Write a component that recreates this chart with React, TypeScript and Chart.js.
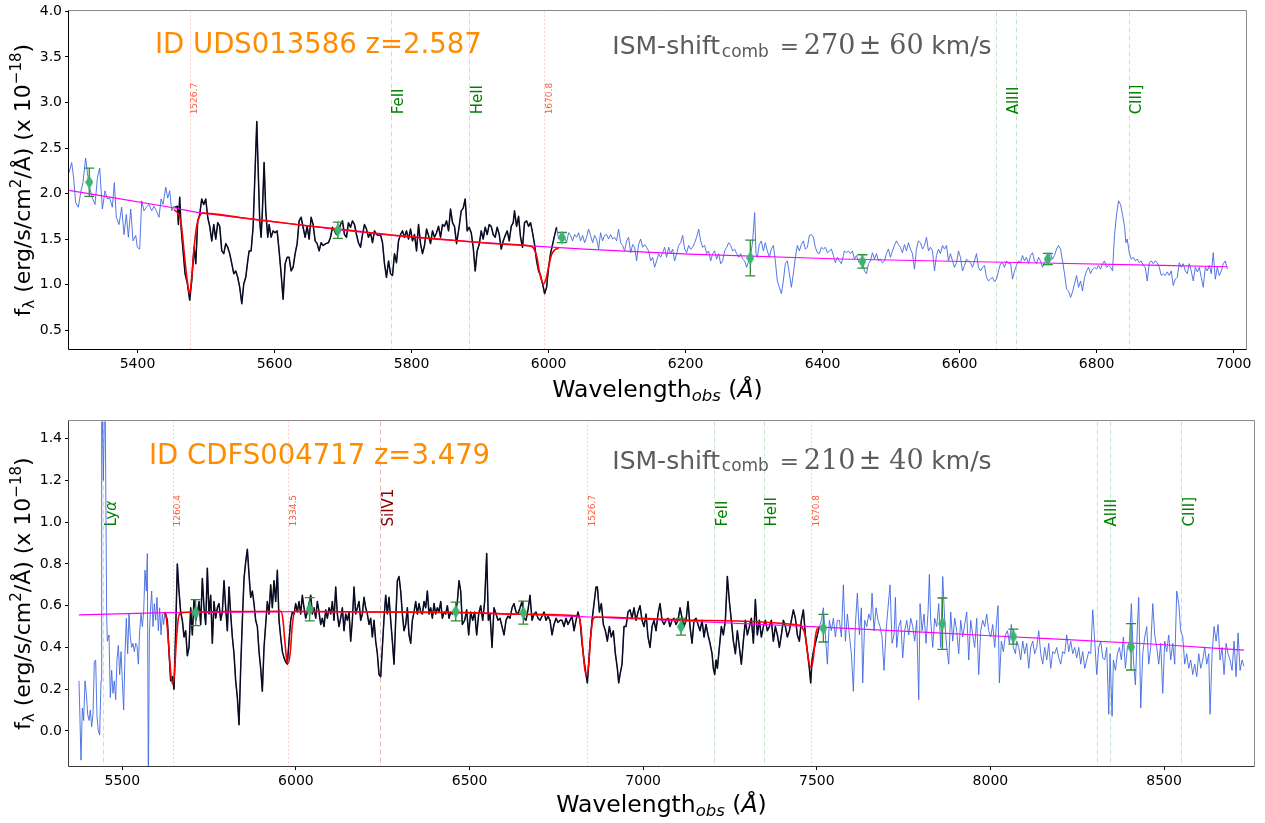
import React, { useEffect, useRef } from 'react';
import { Chart, registerables } from 'chart.js';

Chart.register(...registerables);

type Pt = [number, number];

// ================= Panel 1 : UDS013586 =================
const topObjectId = 'UDS013586';
const topRedshift = 2.587;
const topIsmShift = '270';
const topIsmErr = '60';
const topXLimits = [5300, 7018];
const topYLimits = [0.293, 4.0];
const topXTicks = [5400, 5600, 5800, 6000, 6200, 6400, 6600, 6800, 7000];
const topYTicks = [0.5, 1.0, 1.5, 2.0, 2.5, 3.0, 3.5, 4.0];
const topFitWindow = [5453, 6013];

const topSpectrum: Pt[] = [
  [5300.0,2.23],[5303.9,2.34],[5306.8,2.17],[5309.7,1.90],[5313.6,1.85],[5317.5,2.03],[5320.4,2.12],[5324.3,2.39],[5326.8,2.23],[5330.2,2.06],
  [5334.1,1.95],[5338.0,1.88],[5341.4,2.17],[5344.8,2.28],[5348.7,1.83],[5352.6,2.03],[5356.0,1.94],[5359.4,1.95],[5363.3,1.85],[5366.2,2.12],
  [5369.1,1.74],[5373.0,1.66],[5376.9,1.85],[5380.3,1.55],[5383.7,1.77],[5386.7,1.52],[5390.1,1.83],[5393.5,1.48],[5397.4,1.54],[5399.8,1.41],
  [5403.2,1.39],[5406.1,1.92],[5409.5,1.81],[5412.9,1.85],[5416.8,1.88],[5420.7,1.81],[5424.1,1.86],[5427.5,1.81],[5431.4,1.74],[5434.4,1.94],
  [5437.3,1.88],[5441.2,2.07],[5444.1,1.95],[5447.0,2.03],[5449.9,1.81],[5452.9,1.86],
  [5454.8,1.85],[5458.2,1.86],[5459.7,1.66],[5461.6,1.96],[5463.6,1.63],[5466.5,1.37],[5469.4,1.12],[5472.8,1.01],[5476.2,0.83],[5479.1,1.04],
  [5482.6,1.41],[5485.0,1.23],[5487.9,1.70],[5490.8,1.77],[5493.7,1.94],[5496.7,1.88],[5499.6,1.94],[5502.5,1.74],[5505.4,1.64],[5508.4,1.48],
  [5511.3,1.66],[5514.2,1.50],[5517.1,1.68],[5520.0,1.64],[5523.0,1.37],[5525.9,1.34],[5528.8,1.45],[5531.7,1.41],[5534.6,1.34],[5537.6,1.23],
  [5540.5,1.12],[5543.4,1.15],[5546.3,1.08],[5549.2,0.97],[5552.2,0.79],[5555.1,1.01],[5558.0,1.08],[5560.9,1.26],[5562.9,1.37],[5565.8,1.37],
  [5568.7,1.63],[5571.6,2.25],[5574.1,2.79],[5576.5,2.17],[5578.4,1.70],[5580.4,1.52],[5582.3,1.81],[5584.8,2.34],[5587.2,1.81],[5590.1,1.52],
  [5592.1,1.66],[5595.0,1.52],[5597.9,1.59],[5600.8,1.57],[5603.8,1.59],[5606.7,1.37],[5609.6,1.12],[5612.5,0.84],[5615.5,1.23],[5618.4,1.30],
  [5621.3,1.30],[5624.2,1.15],[5627.1,1.19],[5630.1,1.34],[5633.0,1.45],[5635.9,1.70],[5638.8,1.74],[5641.7,1.63],[5644.7,1.52],[5647.6,1.64],
  [5650.5,1.50],[5653.4,1.74],[5656.3,1.66],[5659.3,1.48],[5662.2,1.45],[5665.1,1.37],[5668.0,1.46],[5670.9,1.43],[5674.8,1.45],[5678.7,1.46],
  [5681.7,1.52],[5684.6,1.63],[5687.5,1.59],[5690.4,1.55],[5693.3,1.59],[5696.3,1.66],[5699.2,1.70],[5702.1,1.55],[5705.0,1.52],[5707.9,1.68],
  [5710.9,1.63],[5713.8,1.70],[5716.7,1.66],[5719.6,1.55],[5722.5,1.46],[5725.5,1.41],[5728.4,1.55],[5731.3,1.66],[5734.2,1.61],[5737.1,1.52],
  [5740.1,1.57],[5743.0,1.46],[5745.9,1.59],[5748.8,1.55],[5751.8,1.54],[5754.7,1.55],[5757.6,1.46],[5760.5,1.23],[5763.4,1.08],[5766.4,1.26],
  [5769.3,1.12],[5772.2,1.10],[5775.1,1.34],[5778.0,1.24],[5781.0,1.48],[5783.9,1.55],[5786.8,1.59],[5789.7,1.52],[5792.6,1.59],[5795.6,1.50],
  [5798.5,1.61],[5801.4,1.48],[5804.3,1.55],[5807.3,1.37],[5810.2,1.66],[5813.1,1.45],[5816.0,1.34],[5818.9,1.43],[5821.9,1.61],[5824.8,1.54],
  [5827.7,1.45],[5830.6,1.59],[5833.5,1.52],[5836.5,1.57],[5839.4,1.64],[5842.3,1.52],[5845.2,1.66],[5848.1,1.64],[5851.1,1.70],[5854.0,1.59],
  [5856.9,1.83],[5859.8,1.68],[5862.7,1.64],[5865.7,1.45],
  [5869.5,1.64],[5872.5,1.81],[5875.4,1.84],[5878.3,1.94],[5881.2,1.59],[5884.1,1.63],[5887.1,1.57],[5890.0,1.41],[5892.9,1.15],[5895.8,1.37],
  [5898.7,1.44],[5901.7,1.59],[5904.6,1.50],[5907.5,1.63],[5910.4,1.55],[5913.4,1.66],[5916.3,1.64],[5919.2,1.55],[5922.1,1.52],[5925.0,1.63],
  [5928.0,1.55],[5930.9,1.39],[5933.8,1.48],[5936.7,1.54],[5939.6,1.59],[5942.6,1.48],[5945.5,1.64],[5948.4,1.68],[5950.3,1.81],[5953.3,1.64],
  [5956.2,1.75],[5959.1,1.52],[5962.0,1.41],[5964.9,1.68],[5967.9,1.70],[5970.8,1.64],[5973.7,1.68],[5976.6,1.57],[5979.6,1.44],[5982.5,1.26],
  [5985.4,1.15],[5988.3,1.10],[5991.2,1.01],[5994.2,0.90],[5997.1,0.97],[6000.0,1.19],[6002.9,1.34],[6005.8,1.44],[6008.8,1.54],[6011.7,1.63],
  [6014.6,1.50],[6017.5,1.54],[6020.5,1.57],[6023.4,1.52],[6026.3,1.46],[6029.2,1.57],[6032.1,1.54],[6035.1,1.48],[6038.0,1.55],[6040.9,1.52],
  [6043.8,1.57],[6046.7,1.48],[6049.7,1.54],[6052.6,1.46],[6055.5,1.52],[6058.4,1.61],[6061.3,1.54],[6064.3,1.46],[6067.2,1.54],[6070.1,1.50],
  [6073.0,1.39],[6075.9,1.57],[6078.9,1.48],[6081.8,1.54],[6084.7,1.55],[6087.6,1.50],[6090.5,1.55],[6093.5,1.50],[6096.4,1.52],[6099.3,1.48],
  [6102.2,1.61],[6105.2,1.46],[6108.1,1.43],[6111.0,1.37],[6113.9,1.48],[6116.8,1.52],[6119.8,1.35],[6122.7,1.44],[6125.6,1.41],[6128.5,1.26],
  [6131.4,1.44],[6134.4,1.50],[6137.3,1.41],[6140.2,1.44],[6143.1,1.41],[6146.0,1.37],[6149.0,1.26],[6151.9,1.30],[6154.8,1.19],[6157.7,1.26],
  [6160.6,1.34],[6163.6,1.30],[6166.5,1.35],[6169.4,1.41],[6172.3,1.30],[6175.3,1.41],[6178.2,1.34],[6181.1,1.39],[6184.0,1.26],[6186.9,1.34],
  [6189.9,1.43],[6192.8,1.46],[6195.7,1.54],[6198.6,1.39],[6201.5,1.35],[6204.5,1.43],[6207.4,1.39],[6210.3,1.41],[6213.2,1.46],[6216.1,1.52],
  [6219.1,1.61],[6222.0,1.48],[6224.9,1.41],[6227.8,1.43],[6230.7,1.34],[6233.7,1.37],[6236.6,1.26],[6239.5,1.34],[6242.4,1.37],[6245.3,1.28],
  [6248.3,1.34],[6251.2,1.23],[6254.1,1.26],[6257.0,1.37],[6260.0,1.41],[6262.9,1.46],[6265.8,1.43],[6268.7,1.37],[6271.6,1.39],[6274.6,1.34],
  [6277.5,1.30],[6280.4,1.34],[6283.3,1.28],[6286.2,1.26],[6289.2,1.19],[6292.1,1.26],[6295.0,1.32],[6297.9,1.48],[6300.8,1.79],[6302.8,1.34],
  [6304.7,1.30],[6307.6,1.44],[6310.6,1.48],[6313.5,1.37],[6316.4,1.46],[6319.3,1.37],[6322.3,1.30],[6325.2,1.39],[6328.1,1.43],[6331.0,1.26],
  [6333.9,1.04],[6336.9,0.97],[6339.8,0.90],[6342.7,1.04],[6345.6,1.23],[6348.5,1.26],[6351.5,1.12],[6354.4,0.97],[6357.3,1.12],[6360.2,1.30],
  [6363.1,1.43],[6366.1,1.37],[6369.0,1.44],[6371.9,1.48],[6374.8,1.39],[6377.8,1.41],[6380.7,1.54],[6383.6,1.55],[6386.5,1.52],[6389.4,1.41],
  [6392.4,1.35],[6395.3,1.34],[6398.2,1.41],[6401.1,1.39],[6404.0,1.41],[6407.0,1.35],[6409.9,1.37],[6412.8,1.39],[6415.7,1.32],[6418.7,1.24],
  [6421.6,1.30],[6424.5,1.26],[6427.4,1.23],[6430.3,1.32],
  [6431.8,1.37],[6434.8,1.35],[6437.7,1.37],[6440.6,1.34],[6443.5,1.37],[6446.4,1.28],[6449.4,1.32],[6452.3,1.26],[6455.2,1.23],[6458.1,1.26],
  [6461.0,1.15],[6464.0,1.12],[6466.9,1.23],[6469.8,1.26],[6472.7,1.35],[6475.7,1.28],[6478.6,1.34],[6481.5,1.26],[6484.4,1.28],[6487.3,1.24],
  [6490.3,1.26],[6493.2,1.34],[6496.1,1.39],[6499.0,1.30],[6501.9,1.37],[6504.9,1.43],[6507.8,1.48],[6510.7,1.44],[6513.6,1.41],[6516.5,1.35],
  [6519.5,1.44],[6522.4,1.37],[6525.3,1.46],[6528.2,1.39],[6531.1,1.34],[6534.1,1.17],[6537.0,1.39],[6539.9,1.48],[6542.8,1.46],[6545.8,1.39],
  [6548.7,1.43],[6551.6,1.52],[6554.5,1.37],[6557.4,1.41],[6560.4,1.37],[6563.3,1.15],[6566.2,1.32],[6569.1,1.39],[6572.0,1.34],[6575.0,1.43],
  [6577.9,1.39],[6580.8,1.43],[6583.7,1.26],[6586.6,1.34],[6589.6,1.26],[6592.5,1.19],[6595.4,1.24],[6598.3,1.37],[6601.2,1.30],[6604.2,1.15],
  [6607.1,1.21],[6610.0,1.28],[6612.9,1.26],[6615.9,1.24],[6618.8,1.19],[6621.7,1.26],[6624.6,1.34],[6627.5,1.19],[6630.5,1.15],[6633.4,1.19],
  [6636.3,1.21],[6639.2,1.08],[6642.1,1.04],[6645.1,1.06],[6648.0,1.08],[6650.9,1.03],[6653.8,1.06],[6656.7,1.15],[6659.7,1.23],[6662.6,1.24],
  [6665.5,1.19],[6668.4,1.26],[6671.3,1.23],[6674.3,1.24],[6677.2,1.06],[6680.1,1.15],[6683.0,1.21],[6686.0,1.26],[6688.9,1.24],[6691.8,1.32],
  [6694.7,1.26],[6697.6,1.30],[6700.6,1.23],[6703.5,1.32],[6706.4,1.35],[6709.3,1.26],[6712.2,1.23],[6715.2,1.30],[6718.1,1.26],[6721.0,1.19],
  [6723.9,1.24],[6726.8,1.28],[6729.8,1.30],[6732.7,1.34],[6735.6,1.28],[6738.5,1.32],[6741.5,1.39],[6744.4,1.43],[6747.3,1.39],[6750.2,1.26],
  [6753.1,1.12],[6756.1,0.95],[6759.0,0.93],[6761.9,0.86],[6764.8,0.92],[6767.7,1.01],[6770.7,1.10],[6773.6,0.97],[6776.5,1.04],[6779.4,0.93],
  [6782.3,1.08],[6785.3,1.15],[6788.2,1.19],[6791.1,1.12],[6794.0,1.17],[6796.9,1.19],[6799.9,1.17],[6802.8,1.21],[6805.7,1.17],[6808.6,1.23],
  [6811.5,1.26],[6814.5,1.19],[6817.4,1.21],[6820.3,1.19],[6823.2,1.15],[6826.1,1.55],[6829.1,1.77],[6832.0,1.92],[6834.9,1.88],[6837.8,1.77],
  [6840.8,1.63],[6842.7,1.46],[6844.6,1.50],[6847.6,1.35],[6850.5,1.28],[6853.4,1.30],[6856.3,1.26],[6859.2,1.28],[6862.2,1.24],[6865.1,1.26],
  [6868.0,1.21],[6870.9,1.19],[6873.9,1.04],[6876.8,1.24],[6879.7,1.26],[6882.6,1.23],[6885.5,1.26],[6888.5,1.24],[6891.4,1.19],[6894.3,1.10],
  [6897.2,1.12],[6900.1,1.10],[6903.1,1.14],[6906.0,1.10],[6908.9,1.15],[6911.8,0.99],[6914.7,1.06],[6917.7,1.08],[6920.6,1.24],[6923.5,1.19],
  [6926.4,1.23],[6929.4,1.15],[6932.3,1.12],[6935.2,1.23],[6938.1,1.15],[6941.0,1.04],[6944.0,1.19],[6946.9,1.14],[6949.8,1.19],[6952.7,1.08],
  [6955.6,0.97],[6958.6,1.19],[6961.5,1.15],[6964.4,1.21],[6967.3,1.12],[6970.2,1.35],[6973.2,1.06],[6976.1,1.19],[6979.0,1.10],[6981.9,1.15],
  [6984.9,1.23],[6987.8,1.26],[6990.7,1.17],
];

const topContinuum: Pt[] = [
  [5300, 2.034], [5452, 1.844], [5491, 1.79], [5551, 1.735], [5602, 1.688], [5650, 1.644], [5686, 1.61],
  [5783, 1.535], [5998, 1.415], [6205, 1.335], [6426, 1.281], [6704, 1.24], [6991, 1.196],
];

const topFitModel: Pt[] = [
  [5453.3, 1.826], [5463.1, 1.699], [5467.9, 1.372], [5471.4, 1.117], [5475.2, 0.917], [5476.2, 0.906],
  [5479.1, 1.081], [5482.6, 1.408], [5486.4, 1.645], [5490.8, 1.754], [5494.7, 1.785], [5551.0, 1.735],
  [5602.0, 1.688], [5650.0, 1.644], [5699.2, 1.605], [5783.0, 1.535], [5869.6, 1.481], [5940.0, 1.442],
  [5970.8, 1.426], [5978.1, 1.40], [5983.0, 1.30], [5986.4, 1.15], [5989.3, 1.06],
  [5992.7, 1.01], [5996.1, 1.06], [6000.0, 1.19], [6003.9, 1.32], [6008.8, 1.38], [6014.6, 1.40],
];

const topIndexWave = [5329.6, 5692.4, 6019.5, 6294.5, 6458.1, 6728.7];
const topIndexFlux = [2.124, 1.597, 1.517, 1.292, 1.255, 1.281];
const topIndexErr = [0.155, 0.09, 0.055, 0.196, 0.073, 0.062];

// ================= Panel 2 : CDFS004717 =================
const botObjectId = 'CDFS004717';
const botRedshift = 3.479;
const botIsmShift = '210';
const botIsmErr = '40';
const botXLimits = [5346.5, 8759];
const botYLimits = [-0.168, 1.483];
const botXTicks = [5500, 6000, 6500, 7000, 7500, 8000, 8500];
const botYTicks = [0.0, 0.2, 0.4, 0.6, 0.8, 1.0, 1.2, 1.4];
const botFitWindow = [5622, 7508];

const botSpectrum: Pt[] = [
  [5375.3,0.24],[5381.1,-0.14],[5384.9,0.11],[5388.7,0.05],[5392.6,0.24],[5396.4,0.18],[5400.3,0.08],[5404.1,0.05],[5407.9,0.10],[5411.8,0.02],
  [5415.6,0.08],[5419.5,0.33],[5423.3,0.34],[5427.1,0.07],[5431.0,0.00],[5434.8,-0.02],[5438.7,0.24],[5440.6,1.70],[5445.4,1.20],[5450.2,1.70],
  [5455.0,0.55],[5456.9,0.43],[5461.7,0.46],[5465.5,0.16],[5469.4,0.29],[5473.2,0.18],[5477.1,0.24],[5480.9,0.15],[5484.7,0.34],[5488.6,0.41],
  [5492.4,0.27],[5496.3,0.38],[5500.1,0.24],[5503.9,0.10],[5507.8,0.37],[5511.6,0.54],[5515.5,0.37],[5519.3,0.56],[5523.1,0.45],[5527.0,0.40],
  [5530.8,0.42],[5534.7,0.38],[5538.5,0.42],[5542.3,0.41],[5546.2,0.32],[5550.0,0.48],[5553.9,0.56],[5557.7,0.50],[5561.5,0.57],[5565.4,0.77],
  [5569.2,0.67],[5572.1,0.85],[5575.0,-0.30],[5577.9,0.46],[5580.7,0.57],[5584.6,0.67],[5588.4,0.50],[5592.3,0.61],[5596.1,0.53],[5599.9,0.64],
  [5603.8,0.48],[5607.6,0.59],[5611.5,0.46],[5615.3,0.56],[5619.1,0.51],[5623.0,0.57],
  [5629.7,0.53],[5634.5,0.38],[5639.3,0.24],[5644.1,0.26],[5648.9,0.20],[5653.7,0.48],[5658.5,0.80],[5663.3,0.67],[5668.1,0.57],[5672.9,0.53],
  [5677.7,0.45],[5682.5,0.48],[5687.3,0.36],[5692.1,0.40],[5696.9,0.59],[5701.7,0.46],[5706.5,0.63],[5711.3,0.53],[5716.1,0.56],[5720.9,0.62],
  [5725.7,0.51],[5730.5,0.73],[5735.3,0.59],[5740.1,0.51],[5744.9,0.78],[5749.7,0.56],[5754.5,0.65],[5759.3,0.42],[5764.1,0.62],[5768.9,0.54],
  [5773.7,0.59],[5778.5,0.61],[5783.3,0.53],[5788.1,0.57],[5792.9,0.72],[5797.7,0.59],[5802.5,0.48],[5807.3,0.69],[5812.1,0.56],[5816.9,0.45],
  [5821.7,0.37],[5826.5,0.24],[5831.3,0.16],[5836.1,0.03],[5840.9,0.30],[5845.7,0.53],[5850.5,0.73],[5855.3,0.81],[5860.1,0.87],[5864.9,0.75],
  [5869.7,0.64],[5874.5,0.67],[5879.3,0.61],[5884.1,0.53],[5888.9,0.50],[5893.7,0.38],[5898.5,0.30],[5903.3,0.19],[5908.1,0.40],[5912.9,0.51],
  [5917.7,0.62],[5922.5,0.56],[5927.3,0.70],[5932.1,0.59],[5936.9,0.72],[5941.7,0.62],[5946.5,0.77],[5951.3,0.53],[5956.1,0.45],[5960.9,0.38],
  [5965.7,0.35],[5970.5,0.33],[5975.3,0.32],[5980.1,0.43],[5984.9,0.53],[5989.7,0.57],[5994.5,0.56],[5999.3,0.61],[6004.1,0.57],[6008.9,0.62],
  [6013.7,0.56],[6018.5,0.65],[6023.3,0.59],[6028.1,0.54],[6032.9,0.57],[6037.7,0.61],[6042.5,0.65],[6047.3,0.56],[6052.1,0.59],[6056.9,0.54],
  [6061.7,0.62],[6066.5,0.57],[6071.3,0.51],[6076.1,0.54],[6080.9,0.50],[6085.7,0.58],[6090.5,0.54],[6095.3,0.59],[6100.1,0.56],[6104.9,0.62],
  [6109.7,0.53],[6114.5,0.69],[6119.3,0.56],[6124.1,0.50],[6128.9,0.54],[6133.7,0.59],[6138.5,0.48],[6143.3,0.56],[6148.1,0.53],[6152.9,0.57],
  [6157.7,0.43],[6162.5,0.53],[6167.3,0.69],[6172.1,0.56],[6176.9,0.59],[6181.7,0.62],[6186.5,0.53],[6191.3,0.56],[6196.1,0.64],[6200.9,0.59],
  [6205.7,0.56],[6210.5,0.51],[6215.3,0.54],[6220.1,0.45],[6224.9,0.53],[6229.7,0.43],[6234.5,0.37],[6239.3,0.27],[6244.1,0.26],[6248.9,0.40],
  [6253.7,0.54],[6258.5,0.65],[6263.3,0.56],[6268.1,0.64],[6272.9,0.53],[6277.7,0.43],[6282.5,0.32],[6287.3,0.53],[6292.1,0.72],[6296.9,0.74],
  [6301.7,0.67],[6306.5,0.56],[6311.3,0.48],[6316.1,0.51],[6320.9,0.59],[6325.7,0.46],[6330.5,0.42],[6335.3,0.53],[6340.1,0.57],[6344.9,0.62],
  [6349.7,0.56],[6354.5,0.61],[6359.3,0.57],[6364.1,0.56],[6368.9,0.62],[6373.7,0.59],[6378.5,0.67],[6383.3,0.56],[6388.1,0.59],[6392.9,0.54],
  [6397.7,0.61],[6402.5,0.56],[6407.3,0.59],[6412.1,0.57],[6416.9,0.62],[6421.7,0.54],[6426.5,0.57],[6431.3,0.56],[6436.1,0.60],[6440.9,0.54],
  [6445.7,0.57],[6450.5,0.56],[6455.3,0.58],[6460.1,0.57],[6464.9,0.62],[6469.7,0.72],[6474.5,0.67],[6479.3,0.51],
  [6485.9,0.53],[6491.7,0.58],[6497.5,0.46],[6503.2,0.57],[6509.0,0.53],[6514.7,0.57],[6520.5,0.46],[6526.3,0.56],[6532.0,0.60],[6537.8,0.53],
  [6543.5,0.62],[6549.3,0.85],[6554.1,0.53],[6558.9,0.56],[6564.7,0.40],[6570.4,0.59],[6576.2,0.56],[6581.9,0.53],[6587.7,0.54],[6593.5,0.50],
  [6599.2,0.46],[6605.0,0.53],[6610.7,0.55],[6616.5,0.54],[6622.3,0.59],[6628.0,0.61],[6633.8,0.57],[6639.5,0.56],[6645.3,0.59],[6651.1,0.62],
  [6656.8,0.54],[6662.6,0.53],[6668.3,0.58],[6674.1,0.65],[6679.9,0.53],[6685.6,0.56],[6691.4,0.57],[6697.1,0.54],[6702.9,0.53],[6708.7,0.55],
  [6714.4,0.57],[6720.2,0.53],[6725.9,0.55],[6731.7,0.53],[6737.5,0.46],[6743.2,0.51],[6749.0,0.54],[6754.7,0.52],[6760.5,0.53],[6766.3,0.53],
  [6772.0,0.50],[6777.8,0.54],[6783.5,0.51],[6789.3,0.53],[6795.1,0.55],[6800.8,0.48],[6806.6,0.53],[6812.3,0.57],[6818.1,0.53],[6823.9,0.42],
  [6829.6,0.34],[6835.4,0.27],[6839.2,0.23],[6843.1,0.32],[6846.9,0.42],[6852.7,0.53],[6858.4,0.61],[6864.2,0.69],[6868.0,0.69],[6873.8,0.57],
  [6879.5,0.61],[6885.3,0.51],[6891.1,0.48],[6896.8,0.43],[6902.6,0.50],[6908.3,0.45],[6914.1,0.48],[6919.9,0.37],[6925.6,0.30],[6929.5,0.23],
  [6933.3,0.27],[6939.1,0.32],[6944.8,0.50],[6950.6,0.50],[6956.3,0.57],[6962.1,0.58],[6967.9,0.54],[6973.6,0.59],[6979.4,0.53],[6985.1,0.57],
  [6990.9,0.60],[6996.7,0.53],[7002.4,0.50],[7008.2,0.56],[7013.9,0.45],[7019.7,0.40],[7025.5,0.50],[7031.2,0.53],[7037.0,0.48],[7042.7,0.56],
  [7048.5,0.61],[7054.3,0.53],[7060.0,0.51],[7065.8,0.53],[7071.5,0.54],[7077.3,0.50],[7083.1,0.53],[7088.8,0.54],[7094.6,0.51],[7100.3,0.53],
  [7106.1,0.59],[7111.9,0.54],[7117.6,0.50],[7123.4,0.53],[7129.1,0.62],[7134.9,0.50],[7140.7,0.42],[7146.4,0.53],[7152.2,0.54],[7157.9,0.51],
  [7163.7,0.48],[7169.5,0.53],[7175.2,0.45],[7181.0,0.51],[7186.7,0.46],[7192.5,0.42],[7198.3,0.37],[7202.1,0.30],[7205.9,0.27],[7209.8,0.34],
  [7213.6,0.30],[7219.4,0.40],[7225.1,0.50],[7230.9,0.46],[7236.7,0.53],[7242.4,0.74],[7248.2,0.62],[7253.9,0.53],[7259.7,0.43],[7265.5,0.37],
  [7271.2,0.48],[7277.0,0.40],[7282.7,0.32],[7288.5,0.43],[7294.3,0.53],[7300.0,0.46],[7305.8,0.50],[7311.5,0.54],[7317.3,0.42],[7323.1,0.63],
  [7328.8,0.46],[7334.6,0.53],[7340.3,0.45],[7346.1,0.50],[7351.9,0.53],[7357.6,0.48],[7363.4,0.50],[7369.1,0.53],[7374.9,0.43],[7380.7,0.50],
  [7386.4,0.46],[7392.2,0.40],[7397.9,0.46],[7403.7,0.53],[7409.5,0.50],[7415.2,0.45],[7421.0,0.48],[7426.7,0.53],[7432.5,0.58],[7438.3,0.54],
  [7444.0,0.46],[7449.8,0.43],[7455.5,0.53],[7461.3,0.58],[7467.1,0.46],[7472.8,0.38],[7478.6,0.30],[7482.4,0.23],[7486.3,0.34],[7490.1,0.38],
  [7495.9,0.42],[7501.6,0.46],[7507.4,0.50],[7513.1,0.53],[7518.9,0.59],[7524.7,0.46],[7530.4,0.32],[7536.2,0.53],[7541.9,0.48],[7547.7,0.54],
  [7553.5,0.45],[7559.2,0.53],[7565.0,0.53],[7570.7,0.45],[7576.5,0.70],[7582.3,0.43],[7588.0,0.56],[7593.8,0.46],[7599.5,0.37],[7605.3,0.19],
  [7611.1,0.51],[7616.8,0.66],[7622.6,0.46],[7628.3,0.59],[7632.2,0.23],[7638.0,0.53],[7643.7,0.50],[7649.5,0.56],[7655.2,0.53],[7659.1,0.66],
  [7664.8,0.48],[7670.6,0.59],[7676.3,0.53],[7682.1,0.50],[7687.9,0.45],[7693.6,0.29],[7699.4,0.48],[7705.1,0.59],[7710.9,0.70],[7716.7,0.42],
  [7722.4,0.46],[7726.3,0.64],[7730.1,0.40],[7735.9,0.50],[7741.6,0.53],[7747.4,0.35],[7753.1,0.48],[7758.9,0.53],[7764.7,0.46],[7770.4,0.54],
  [7776.2,0.50],[7781.9,0.43],[7787.7,0.53],[7793.5,0.15],[7797.3,0.61],[7803.1,0.48],[7808.8,0.56],[7814.6,0.42],[7820.3,0.57],[7824.2,0.75],
  [7828.0,0.53],[7833.8,0.40],[7839.5,0.54],[7845.3,0.50],[7851.1,0.61],[7856.8,0.40],[7862.6,0.74],[7868.3,0.53],[7874.1,0.40],[7879.9,0.32],
  [7885.6,0.57],[7891.4,0.43],[7897.1,0.54],[7902.9,0.48],[7908.7,0.37],[7914.4,0.53],[7920.2,0.45],[7925.9,0.51],[7931.7,0.57],[7937.5,0.34],
  [7943.2,0.53],[7949.0,0.46],[7954.7,0.40],[7960.5,0.54],[7966.3,0.27],[7972.0,0.48],[7977.8,0.53],[7983.5,0.50],[7989.3,0.56],[7995.1,0.48],
  [8000.8,0.45],[8006.6,0.51],[8012.3,0.40],[8018.1,0.53],[8021.9,0.60],[8025.8,0.23],[8031.5,0.43],[8037.3,0.38],[8043.1,0.46],[8048.8,0.48],
  [8054.6,0.42],[8060.3,0.51],[8066.1,0.40],[8071.9,0.37],[8075.7,0.43],[8081.5,0.40],[8087.2,0.34],[8093.0,0.43],[8098.7,0.37],[8104.5,0.42],
  [8110.3,0.30],[8116.0,0.40],[8121.8,0.43],[8127.5,0.37],[8133.3,0.40],[8139.1,0.48],[8144.8,0.37],[8150.6,0.32],[8156.3,0.40],[8162.1,0.34],
  [8167.9,0.42],[8173.6,0.30],[8179.4,0.38],[8185.1,0.37],[8190.9,0.40],[8196.7,0.35],[8202.4,0.32],[8208.2,0.38],[8213.9,0.37],[8219.7,0.46],
  [8225.5,0.38],[8231.2,0.43],[8237.0,0.37],[8242.7,0.40],[8248.5,0.35],[8254.3,0.40],[8260.0,0.32],[8265.8,0.38],[8271.5,0.30],[8277.3,0.34],
  [8283.1,0.38],[8288.8,0.37],[8294.6,0.58],[8300.3,0.43],[8306.1,0.27],[8311.9,0.40],[8317.6,0.43],[8323.4,0.35],[8329.1,0.34],[8334.9,0.40],
  [8340.7,0.08],[8344.5,0.37],[8350.3,0.07],[8354.1,0.34],[8359.9,0.29],[8365.6,0.37],[8371.4,0.40],[8377.1,0.34],[8382.9,0.45],[8388.7,0.30],
  [8394.4,0.40],[8400.2,0.43],[8405.9,0.61],[8411.7,0.34],[8417.5,0.22],[8423.2,0.50],[8427.1,0.64],[8432.8,0.11],[8438.6,0.37],[8444.3,0.45],
  [8450.1,0.50],[8455.9,0.32],[8461.6,0.40],[8467.4,0.61],[8473.1,0.46],[8478.9,0.40],[8484.7,0.32],[8490.4,0.42],[8496.2,0.18],[8501.9,0.43],
  [8507.7,0.38],[8513.5,0.46],[8519.2,0.34],[8525.0,0.42],[8530.7,0.32],[8536.5,0.67],[8542.3,0.61],[8548.0,0.48],[8553.8,0.45],[8559.5,0.32],
  [8565.3,0.37],[8571.1,0.30],[8576.8,0.34],[8582.6,0.27],[8588.3,0.32],[8594.1,0.26],[8599.9,0.37],[8605.6,0.30],[8611.4,0.34],[8617.1,0.40],
  [8622.9,0.32],[8628.7,0.37],[8632.5,0.08],[8638.3,0.37],[8644.0,0.50],[8649.8,0.43],[8655.5,0.51],[8661.3,0.34],[8667.1,0.40],[8672.8,0.27],
  [8678.6,0.42],[8684.3,0.37],[8690.1,0.34],[8695.9,0.29],[8701.6,0.43],[8707.4,0.26],[8713.1,0.47],[8718.9,0.29],[8724.7,0.34],[8730.4,0.31],
];

const botContinuum: Pt[] = [
  [5375, 0.556], [5625, 0.567], [6000, 0.572], [6479, 0.567], [7000, 0.535],
  [7500, 0.499], [8000, 0.456], [8500, 0.413], [8730, 0.387],
];

const botFitModel: Pt[] = [
  [5620.1, 0.567], [5626.8, 0.54], [5632.6, 0.43], [5638.3, 0.30], [5644.1, 0.226], [5649.9, 0.27],
  [5655.6, 0.43], [5661.4, 0.54], [5669.1, 0.567], [5826.5, 0.572], [5957.1, 0.573], [5962.8, 0.53],
  [5968.6, 0.42], [5973.4, 0.34], [5978.2, 0.324], [5983.9, 0.38], [5989.7, 0.51], [5997.4, 0.573],
  [6200.9, 0.57], [6479.3, 0.567], [6664.5, 0.559], [6813.3, 0.551], [6820.0, 0.51], [6825.8, 0.40],
  [6831.5, 0.30], [6837.3, 0.265], [6843.1, 0.32], [6848.8, 0.45], [6854.6, 0.53], [6862.3, 0.546],
  [7144.5, 0.53], [7451.7, 0.506], [7456.5, 0.50], [7466.1, 0.46], [7472.8, 0.38], [7478.6, 0.32],
  [7484.3, 0.305], [7490.1, 0.35], [7495.9, 0.45], [7501.6, 0.49], [7507.4, 0.495],
];

const botIndexWave = [5711.3, 6039.6, 6460.1, 6654.9, 7109.0, 7518.9, 7861.6, 8066.1, 8405.0];
const botIndexFlux = [0.567, 0.583, 0.572, 0.567, 0.499, 0.492, 0.514, 0.452, 0.403];
const botIndexErr = [0.062, 0.056, 0.045, 0.055, 0.04, 0.066, 0.123, 0.036, 0.111];

// ================= line lists (rest frame, Å) =================
const topIsmLines = [1526.7, 1670.8];
const botIsmLines = [1260.4, 1334.5, 1526.7, 1670.8];
const topEmission = [
  { name: 'FeII', rest: [1608.45] },
  { name: 'HeII', rest: [1640.42] },
  { name: 'AlIII', rest: [1854.72, 1862.79] },
  { name: 'CIII]', rest: [1908.73] },
];
const botEmission = [
  { name: 'Lyα', rest: [1215.67] },
  { name: 'FeII', rest: [1608.45] },
  { name: 'HeII', rest: [1640.42] },
  { name: 'AlIII', rest: [1854.72, 1862.79] },
  { name: 'CIII]', rest: [1908.73] },
];
const botSiIV = [{ name: 'SiIV1', rest: [1393.76] }];

// ================= drawing helpers =================
type Piece = { t: string; font: string; dy?: number };
type Mark = { rest: number[]; pieces: Piece[]; kind: 'ism' | 'em' | 'siiv' };

const SANS = 'DejaVu Sans';
const markStyle = {
  ism: { line: 'rgba(248,140,130,0.55)', dash: [1.5, 2.5], text: '#ff5a3a', size: 9 },
  em: { line: 'rgba(130,200,130,0.45)', dash: [5, 3], text: '#008000', size: 15 },
  siiv: { line: 'rgba(185,95,95,0.45)', dash: [5, 3], text: '#8b0000', size: 15 },
};

function drawPieces(ctx: CanvasRenderingContext2D, pieces: Piece[], x: number, y: number, align: 'left' | 'center') {
  const widths = pieces.map((p) => { ctx.font = p.font; return ctx.measureText(p.t).width; });
  const total = widths.reduce((a, b) => a + b, 0);
  let cx = align === 'center' ? x - total / 2 : x;
  pieces.forEach((p, i) => { ctx.font = p.font; ctx.fillText(p.t, cx, y + (p.dy || 0)); cx += widths[i]; });
}

function diamondCanvas(w: number, h: number, color: string) {
  const c = document.createElement('canvas');
  c.width = w; c.height = h;
  const g = c.getContext('2d')!;
  g.fillStyle = color;
  g.beginPath(); g.moveTo(w / 2, 0); g.lineTo(w, h / 2); g.lineTo(w / 2, h); g.lineTo(0, h / 2); g.closePath(); g.fill();
  return c;
}

type Panel = {
  key: string; id: string; z: number; ism: string; ismErr: string;
  xLim: number[]; yLim: number[]; xTicks: number[]; yTicks: number[];
  spectrum: Pt[]; fitWindow: number[]; continuum: Pt[]; fit: Pt[];
  idxW: number[]; idxF: number[]; idxE: number[]; marks: Mark[];
  height: number; padTop: number; padRight: number; xAxisH: number;
  titleDx: number; titleDy: number; ismDy: number; xLabDy: number;
  frameDark: string;
};

function buildMarks(ism: number[], em: { name: string; rest: number[] }[], siiv: { name: string; rest: number[] }[]): Mark[] {
  const out: Mark[] = [];
  ism.forEach((r) => out.push({ rest: [r], kind: 'ism', pieces: [{ t: r.toFixed(1), font: `9px ${SANS}` }] }));
  em.forEach((e) => {
    const pieces: Piece[] = e.name === 'Lyα'
      ? [{ t: 'Ly', font: `15px ${SANS}` }, { t: 'α', font: `italic 15px ${SANS}` }]
      : [{ t: e.name, font: `15px ${SANS}` }];
    out.push({ rest: e.rest, kind: 'em', pieces });
  });
  siiv.forEach((e) => out.push({ rest: e.rest, kind: 'siiv', pieces: [{ t: e.name, font: `15px ${SANS}` }] }));
  return out;
}

const panels: Panel[] = [
  {
    key: 'top', id: topObjectId, z: topRedshift, ism: topIsmShift, ismErr: topIsmErr,
    xLim: topXLimits, yLim: topYLimits, xTicks: topXTicks, yTicks: topYTicks,
    spectrum: topSpectrum, fitWindow: topFitWindow, continuum: topContinuum, fit: topFitModel,
    idxW: topIndexWave, idxF: topIndexFlux, idxE: topIndexErr,
    marks: buildMarks(topIsmLines, topEmission, []),
    height: 410, padTop: 9, padRight: 19, xAxisH: 61,
    titleDx: 86, titleDy: 41.7, ismDy: 42.7, xLabDy: 47.7, frameDark: '#000',
  },
  {
    key: 'bot', id: botObjectId, z: botRedshift, ism: botIsmShift, ismErr: botIsmErr,
    xLim: botXLimits, yLim: botYLimits, xTicks: botXTicks, yTicks: botYTicks,
    spectrum: botSpectrum, fitWindow: botFitWindow, continuum: botContinuum, fit: botFitModel,
    idxW: botIndexWave, idxF: botIndexFlux, idxE: botIndexErr,
    marks: buildMarks(botIsmLines, botEmission, botSiIV),
    height: 413, padTop: 9, padRight: 11, xAxisH: 57,
    titleDx: 80, titleDy: 42.7, ismDy: 47.4, xLabDy: 45.7, frameDark: '#3a3a3a',
  },
];

function makeDecor(p: Panel, markerIndex: number) {
  return {
    id: 'decor_' + p.key,
    beforeDatasetsDraw(chart: any) {
      const { ctx, chartArea: a } = chart;
      const x = chart.scales.x;
      ctx.save();
      ctx.beginPath(); ctx.rect(a.left, a.top, a.right - a.left, a.bottom - a.top); ctx.clip();
      p.marks.forEach((m) => {
        const st = markStyle[m.kind];
        m.rest.forEach((r) => {
          const px = Math.round(x.getPixelForValue(r * (1 + p.z))) + 0.5;
          ctx.strokeStyle = st.line; ctx.lineWidth = 1; ctx.setLineDash(st.dash);
          ctx.beginPath(); ctx.moveTo(px, a.top); ctx.lineTo(px, a.bottom); ctx.stroke();
        });
      });
      ctx.restore();
      const yl = a.top + 0.305 * (a.bottom - a.top);
      p.marks.forEach((m) => {
        const st = markStyle[m.kind];
        const w = m.rest.reduce((s, v) => s + v, 0) / m.rest.length * (1 + p.z);
        const px = x.getPixelForValue(w);
        ctx.save();
        ctx.translate(px + 0.8 * st.size + 0.5, yl);
        ctx.rotate(-Math.PI / 2);
        ctx.fillStyle = st.text; ctx.textBaseline = 'alphabetic';
        drawPieces(ctx, m.pieces, 0, 0, 'left');
        ctx.restore();
      });
    },
    beforeDatasetDraw(chart: any, args: any) {
      if (args.index !== markerIndex) return;
      const { ctx } = chart;
      const x = chart.scales.x, y = chart.scales.y;
      ctx.save();
      ctx.strokeStyle = '#2e8b3a'; ctx.lineWidth = 1.3;
      p.idxW.forEach((w, i) => {
        const px = x.getPixelForValue(w);
        const y0 = y.getPixelForValue(p.idxF[i] + p.idxE[i]);
        const y1 = y.getPixelForValue(p.idxF[i] - p.idxE[i]);
        ctx.beginPath();
        ctx.moveTo(px, y0); ctx.lineTo(px, y1);
        ctx.moveTo(px - 5, y0); ctx.lineTo(px + 5, y0);
        ctx.moveTo(px - 5, y1); ctx.lineTo(px + 5, y1);
        ctx.stroke();
      });
      ctx.restore();
    },
    afterDraw(chart: any) {
      const { ctx, chartArea: a } = chart;
      ctx.save();
      // frame
      const L = Math.round(a.left) - 0.5, R = Math.round(a.right) + 0.5, T = Math.round(a.top) - 0.5, B = Math.round(a.bottom) + 0.5;
      ctx.lineWidth = 1;
      ctx.strokeStyle = '#8a8a8a';
      ctx.beginPath(); ctx.moveTo(L, T); ctx.lineTo(R, T); ctx.lineTo(R, B); ctx.stroke();
      ctx.strokeStyle = p.frameDark;
      ctx.beginPath(); ctx.moveTo(L, T); ctx.lineTo(L, B); ctx.lineTo(R, B); ctx.stroke();
      // title
      ctx.textBaseline = 'alphabetic'; ctx.textAlign = 'left';
      ctx.fillStyle = '#ff8c00'; ctx.font = `27.5px ${SANS}`;
      ctx.fillText(`ID ${p.id} z=${p.z.toFixed(3)}`, a.left + p.titleDx, a.top + p.titleDy);
      // ISM shift text
      const x0 = a.left + 543.3, yb = a.top + p.ismDy;
      ctx.fillStyle = '#5c5c5c';
      const parts: [string, string, number, number][] = [
        ['ISM-shift', `25px ${SANS}`, 0, 0],
        ['comb', `17px ${SANS}`, 109.5, 2.5],
        ['=', `23px DejaVu Serif`, 167.5, 0],
        [p.ism, `27px DejaVu Serif`, 191.5, 0],
        ['±', `27px DejaVu Serif`, 246.5, 0],
        [p.ismErr, `27px DejaVu Serif`, 277, 0],
        ['km/s', `25px ${SANS}`, 319, 0],
      ];
      parts.forEach(([t, f, dx, dy]) => { ctx.font = f; ctx.fillText(t, x0 + dx, yb + dy); });
      // x label
      ctx.fillStyle = '#000';
      drawPieces(ctx, [
        { t: 'Wavelength', font: `23.5px ${SANS}` },
        { t: 'obs', font: `italic 16.5px ${SANS}`, dy: 4.5 },
        { t: ' (', font: `23.5px ${SANS}` },
        { t: 'Å', font: `italic 23.5px ${SANS}` },
        { t: ')', font: `23.5px ${SANS}` },
      ], (a.left + a.right) / 2, a.bottom + p.xLabDy, 'center');
      // y label
      ctx.translate(30, (a.top + a.bottom) / 2);
      ctx.rotate(-Math.PI / 2);
      drawPieces(ctx, [
        { t: 'f', font: `22px ${SANS}` },
        { t: 'λ', font: `15px ${SANS}`, dy: 4 },
        { t: ' (erg/s/cm', font: `22px ${SANS}` },
        { t: '2', font: `15px ${SANS}`, dy: -9 },
        { t: '/Å) (x 10', font: `22px ${SANS}` },
        { t: '−18', font: `15px ${SANS}`, dy: -9 },
        { t: ')', font: `22px ${SANS}` },
      ], 0, 0, 'center');
      ctx.restore();
    },
  };
}

function makeConfig(p: Panel): any {
  const toXY = (arr: Pt[]) => arr.map(([x, y]) => ({ x, y }));
  const black = p.spectrum.filter(([w]) => w >= p.fitWindow[0] && w <= p.fitWindow[1]);
  const markerIndex = 4;
  const diamond = diamondCanvas(8, 14, '#3cb371');
  const axisTicks = { font: { family: SANS, size: 14 }, color: '#000', autoSkip: false, maxRotation: 0 };
  const grid = { drawOnChartArea: false, drawTicks: true, tickLength: 4, tickColor: '#000', tickWidth: 1, color: '#000' };
  return {
    type: 'line',
    data: {
      datasets: [
        { data: toXY(p.spectrum), borderColor: 'rgba(65,105,225,0.9)', borderWidth: 1, pointRadius: 0, borderJoinStyle: 'round', order: 5 },
        { data: toXY(black), borderColor: '#0b0b1c', borderWidth: 1.5, pointRadius: 0, borderJoinStyle: 'round', order: 4 },
        { data: toXY(p.continuum), borderColor: '#ff00ff', borderWidth: 1.2, pointRadius: 0, cubicInterpolationMode: 'monotone', order: 3 },
        { data: toXY(p.fit), borderColor: '#ff0000', borderWidth: 1.6, pointRadius: 0, cubicInterpolationMode: 'monotone', order: 2 },
        {
          data: p.idxW.map((w, i) => ({ x: w, y: p.idxF[i] })), showLine: false,
          pointStyle: diamond, pointRadius: 5, borderWidth: 0, order: 1,
        },
      ],
    },
    options: {
      responsive: false, animation: false, devicePixelRatio: 1, parsing: false, events: [],
      layout: { padding: { left: 0, top: p.padTop, right: p.padRight, bottom: 0 } },
      plugins: { legend: { display: false }, tooltip: { enabled: false }, title: { display: false } },
      scales: {
        x: {
          type: 'linear', min: p.xLim[0], max: p.xLim[1],
          afterBuildTicks: (s: any) => { s.ticks = p.xTicks.map((v) => ({ value: v })); },
          afterFit: (s: any) => { s.height = p.xAxisH; },
          ticks: { ...axisTicks, padding: 3, callback: (v: number) => String(v) },
          grid, border: { display: false },
        },
        y: {
          type: 'linear', min: p.yLim[0], max: p.yLim[1],
          afterBuildTicks: (s: any) => { s.ticks = p.yTicks.map((v) => ({ value: v })); },
          afterFit: (s: any) => { s.width = 69; },
          ticks: { ...axisTicks, padding: 3, callback: (v: number) => Number(v).toFixed(1) },
          grid, border: { display: false },
        },
      },
    },
    plugins: [makeDecor(p, markerIndex)],
  };
}

function PanelChart({ p, top }: { p: Panel; top: number }) {
  const ref = useRef<HTMLCanvasElement | null>(null);
  useEffect(() => {
    if (!ref.current) return;
    const chart = new Chart(ref.current, makeConfig(p));
    return () => chart.destroy();
  }, [p]);
  return (
    <canvas ref={ref} width={1265} height={p.height}
      style={{ position: 'absolute', left: 0, top, width: 1265, height: p.height, display: 'block' }} />
  );
}

export default function App() {
  return (
    <div style={{ position: 'fixed', left: 0, top: 0, width: 1265, height: 823, background: '#fff', overflow: 'hidden' }}>
      <PanelChart p={panels[0]} top={0} />
      <PanelChart p={panels[1]} top={410} />
    </div>
  );
}
